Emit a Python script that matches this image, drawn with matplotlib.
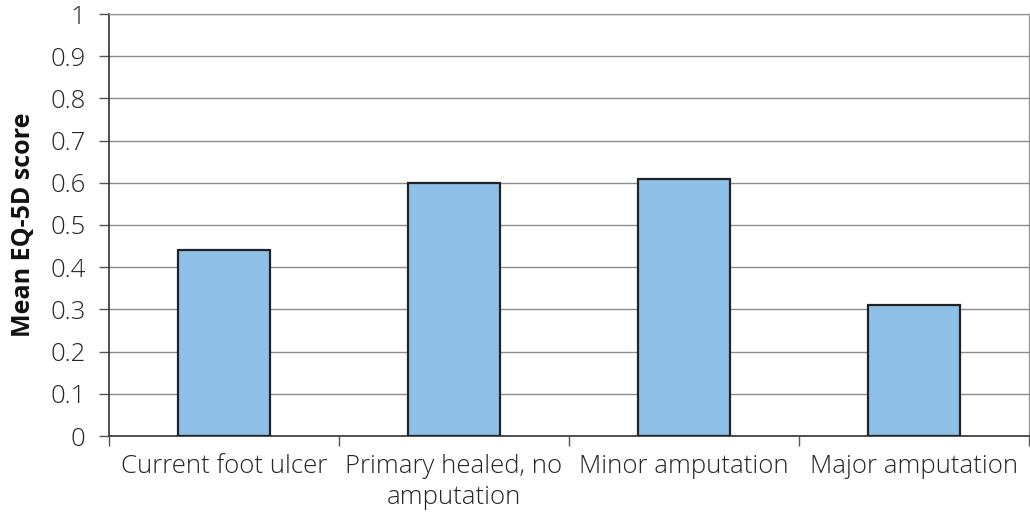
import matplotlib
matplotlib.use("Agg")
import matplotlib.pyplot as plt
import numpy as np

categories = ["Current foot ulcer", "Primary healed, no\namputation", "Minor amputation", "Major amputation"]
values = [0.44, 0.60, 0.61, 0.31]
yticks = [0, 0.1, 0.2, 0.3, 0.4, 0.5, 0.6, 0.7, 0.8, 0.9, 1]
ytick_labels = ["0", "0.1", "0.2", "0.3", "0.4", "0.5", "0.6", "0.7", "0.8", "0.9", "1"]

plt.rcParams['font.family'] = ['Open Sans', 'DejaVu Sans']
txt = "#262626"

fig = plt.figure(figsize=(10.30, 5.14), dpi=100)
ax = fig.add_axes([109/1030, 78/514, 920/1030, 422/514])

x = np.arange(len(categories))
ax.bar(x, values, width=0.4, color="#8EBFE7", edgecolor="#222222", linewidth=1.6, zorder=3)

ax.set_xlim(-0.5, 3.5)
ax.set_ylim(0, 1)
ax.set_yticks(yticks)
ax.set_yticklabels(ytick_labels, fontsize=18.5, color=txt, fontweight='light')
ax.yaxis.grid(True, color="#8c8c8c", linewidth=1.0, zorder=0)
ax.set_axisbelow(True)

ax.set_xticks(x)
ax.set_xticklabels(categories, fontsize=18.5, color=txt, linespacing=1.3, fontweight='light')
ax.tick_params(axis='x', which='major', length=0, pad=13)
ax.set_xticks(np.arange(-0.5, 4.0, 1.0), minor=True)
ax.tick_params(axis='x', which='minor', length=7, width=1, color="#555555", direction='out')
ax.tick_params(axis='y', length=7, width=1, color="#555555", direction='out', pad=10)

for s in ['left', 'bottom']:
    ax.spines[s].set_color("#333333")
    ax.spines[s].set_linewidth(1.2)
for s in ['top', 'right']:
    ax.spines[s].set_color("#999999")
    ax.spines[s].set_linewidth(1.0)

ax.set_ylabel("Mean EQ-5D score", fontsize=18, fontweight='bold', color="#111111", labelpad=10)

fig.savefig("out.png", dpi=100)
